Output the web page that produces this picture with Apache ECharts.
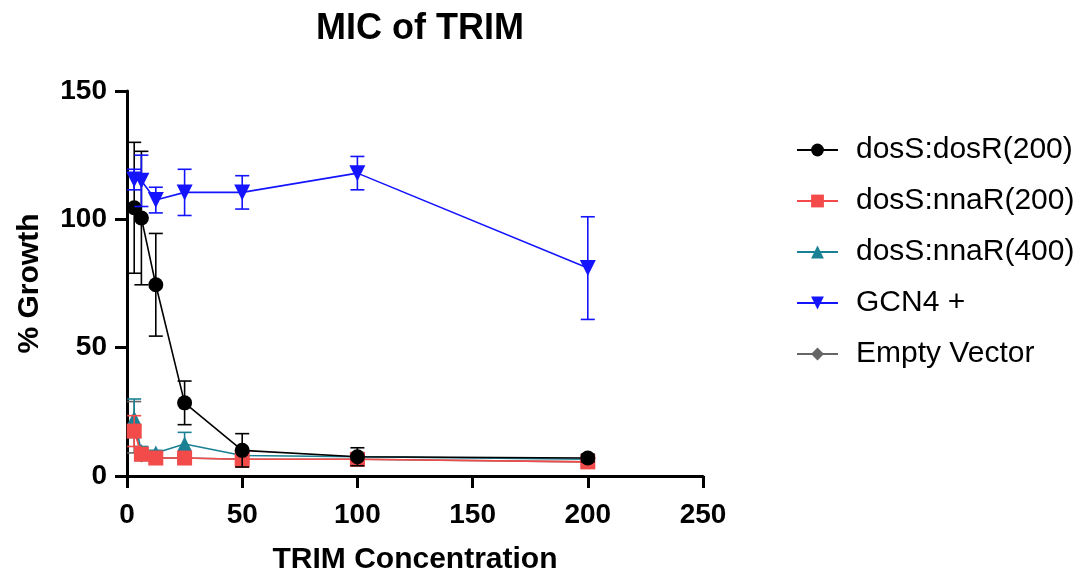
<!DOCTYPE html>
<html>
<head>
<meta charset="utf-8">
<script src="https://cdn.jsdelivr.net/npm/echarts@6/dist/echarts.min.js"></script>
<style>html,body{margin:0;padding:0;background:#fff}#c{width:1089px;height:576px}</style>
</head>
<body>
<div id="c"></div>
<script>
// ---- data ----
const conc = [3.125, 6.25, 12.5, 25, 50, 100, 200];
const seriesNames = ['dosS:dosR(200)', 'dosS:nnaR(200)', 'dosS:nnaR(400)', 'GCN4 +', 'Empty Vector'];
const dosR200 = [104.5, 100.5, 74.5, 28.5, 10, 7.5, 7];
const dosR200Err = [25.5, 26, 20, 8.5, 6.5, 3.5, 1.5];
const nnaR200 = [17.5, 8.5, 7, 7, 6.5, 6.5, 5.5];
const nnaR200Err = [6, 2, 1.5, 1.5, 3, 2, 1];
const nnaR400 = [22.5, 9.5, 9, 12.5, 8, 7.5, 6.5];
const nnaR400Err = [7.5, 2, 1, 4.5, 1.5, 1, 0.5];
const gcn4 = [115.5, 115, 107.5, 110.5, 110.5, 118, 81];
const gcn4Err = [4, 10, 5, 9, 6.5, 6.5, 20];
const emptyVec = [19, 8, 7, 7, 6.5, 6.5, 5.5];
const emptyVecErr = [10, 2, 1, 1, 1, 1, 1];
const xTicks = [0, 50, 100, 150, 200, 250];
const yTicks = [0, 50, 100, 150];

// ---- styles ----
const colors = ['#000000', '#f34a4a', '#1a8094', '#1414ff', '#666666'];
const symbols = ['circle', 'rect', 'triangle', 'triangle', 'diamond'];
const rotates = [0, 0, 0, 180, 0];
const symSizes = [15, 15, 15, 16, 14];
const vals = [dosR200, nnaR200, nnaR400, gcn4, emptyVec];
const errs = [dosR200Err, nnaR200Err, nnaR400Err, gcn4Err, emptyVecErr];
const zOrder = [5, 4, 3, 6, 1];

const font = 'Liberation Sans, Arial, sans-serif';
const series = [];
vals.forEach((v, i) => {
  series.push({
    name: seriesNames[i] + ' err',
    type: 'custom',
    z: zOrder[i],
    silent: true,
    data: conc.map((x, k) => [x, v[k] - errs[i][k], v[k] + errs[i][k]]),
    renderItem: function (params, api) {
      const x = api.value(0);
      const lo = api.coord([x, api.value(1)]);
      const hi = api.coord([x, api.value(2)]);
      const hw = 7;
      const st = { stroke: colors[i], lineWidth: 1.6 };
      return {
        type: 'group',
        children: [
          { type: 'line', shape: { x1: lo[0], y1: lo[1], x2: hi[0], y2: hi[1] }, style: st },
          { type: 'line', shape: { x1: lo[0] - hw, y1: lo[1], x2: lo[0] + hw, y2: lo[1] }, style: st },
          { type: 'line', shape: { x1: hi[0] - hw, y1: hi[1], x2: hi[0] + hw, y2: hi[1] }, style: st }
        ]
      };
    }
  });
  series.push({
    name: seriesNames[i],
    type: 'line',
    z: zOrder[i],
    data: conc.map((x, k) => [x, v[k]]),
    symbol: symbols[i],
    symbolRotate: rotates[i],
    symbolSize: symSizes[i],
    showAllSymbol: true,
    clip: false,
    itemStyle: { color: colors[i] },
    lineStyle: { color: colors[i], width: 1.6 },
    emphasis: { disabled: true }
  });
});

const chart = echarts.init(document.getElementById('c'), null, { renderer: 'canvas' });
chart.setOption({
  animation: false,
  backgroundColor: '#ffffff',
  title: {
    text: 'MIC of TRIM',
    left: 415, top: 6, textAlign: 'center',
    textStyle: { fontFamily: font, fontSize: 36, fontWeight: 'bold', color: '#000' }
  },
  legend: {
    data: seriesNames.map((n, i) => ({ name: n, itemStyle: { color: colors[i] } })),
    orient: 'vertical',
    left: 791, top: 130,
    itemWidth: 41, itemHeight: 16,
    itemGap: 21,
    selectedMode: false,
    textStyle: { fontFamily: font, fontSize: 30, color: '#000', padding: [0, 0, 0, 13] }
  },
  grid: { left: 127, top: 91, width: 576, height: 385, containLabel: false, outerBoundsMode: 'none' },
  xAxis: {
    type: 'value', min: 0, max: 250, interval: 50,
    name: 'TRIM Concentration', nameLocation: 'middle', nameGap: 69,
    nameTextStyle: { fontFamily: font, fontSize: 30, fontWeight: 'bold', color: '#000' },
    axisLine: { show: true, onZero: false, lineStyle: { color: '#000', width: 3 } },
    axisTick: { show: true, length: 12, lineStyle: { color: '#000', width: 3 } },
    axisLabel: { fontFamily: font, fontSize: 28, fontWeight: 'bold', color: '#000', margin: 25,
      formatter: v => xTicks.includes(v) ? String(v) : '' },
    splitLine: { show: false }
  },
  yAxis: {
    type: 'value', min: 0, max: 150, interval: 50,
    name: '% Growth', nameLocation: 'middle', nameGap: 82, nameRotate: 90,
    nameTextStyle: { fontFamily: font, fontSize: 30, fontWeight: 'bold', color: '#000' },
    axisLine: { show: true, onZero: false, lineStyle: { color: '#000', width: 3 } },
    axisTick: { show: true, length: 12, lineStyle: { color: '#000', width: 3 } },
    axisLabel: { fontFamily: font, fontSize: 28, fontWeight: 'bold', color: '#000', margin: 20,
      formatter: v => yTicks.includes(v) ? String(v) : '' },
    splitLine: { show: false }
  },
  series: series
});
</script>
</body>
</html>
